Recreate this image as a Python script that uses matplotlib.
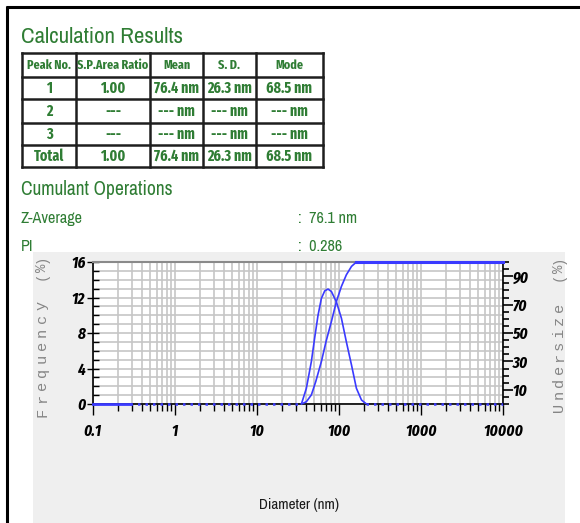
import os
import matplotlib
matplotlib.use("Agg")
import matplotlib.pyplot as plt
from matplotlib import font_manager as fm
from matplotlib.patches import Rectangle
from matplotlib.ticker import FixedLocator, FixedFormatter, NullFormatter

# ---- peak table -------------------------------------------------------
table_header = ["Peak No.", "S.P.Area Ratio", "Mean", "S. D.", "Mode"]
peak_names = ["1", "2", "3", "Total"]
area_ratio = ["1.00", "---", "---", "1.00"]
peak_mean = ["76.4 nm", "--- nm", "--- nm", "76.4 nm"]
peak_sd = ["26.3 nm", "--- nm", "--- nm", "26.3 nm"]
peak_mode = ["68.5 nm", "--- nm", "--- nm", "68.5 nm"]

# ---- cumulant results -------------------------------------------------
z_average = 76.1
poly_index = 0.286

# ---- frequency distribution (diameter in nm, %) -----------------------
freq_diam = [34.8, 40, 46, 50.5, 55.5, 61, 67, 73.5, 80.8, 93, 107, 123, 142, 163, 188, 216]
freq_pct = [0, 1.77, 4.77, 7.45, 10.0, 11.9, 12.75, 12.95, 12.67, 11.5, 9.67, 7.0, 4.4, 1.77, 0.45, 0]

# ---- cumulative undersize (diameter in nm, %) -------------------------
cum_diam = [34.8, 40, 46, 52, 61, 69.5, 80.8, 93, 107, 123, 142, 163, 10000]
cum_pct = [0, 1.6, 6.4, 15.7, 29.9, 44, 58.1, 72.2, 82.8, 91.0, 96.9, 100, 100]

size_range = [0.1, 10000]
solid_zero_end = 0.28
x_ticks = [0.1, 1, 10, 100, 1000, 10000]
x_tick_labels = ["0.1", "1", "10", "100", "1000", "10000"]
freq_ticks = [0, 4, 8, 12, 16]
under_ticks = [10, 30, 50, 70, 90]


# ---- fonts: prefer a narrow sans face --------------------------------
def _weight(f):
    w = f.weight
    if isinstance(w, str):
        w = fm.weight_dict.get(w, 400)
    return w


def _narrow_ok(f):
    base = os.path.basename(f.fname).lower()
    name = f.name.lower()
    key = base + " " + name
    if not ("narrow" in key or "condensed" in key or str(f.stretch) == "condensed"):
        return False
    for bad in ("ultra", "semi", "mono", "serif", "display"):
        if bad in key:
            return False
    return True


PRIORITY = ["liberationsansnarrow", "arialnarrow", "notosans", "robotocondensed",
            "opensans", "dejavusans"]


def narrow_font(bold=False, italic=False):
    cands = [f for f in fm.fontManager.ttflist if _narrow_ok(f)]

    def match(f, need_italic):
        is_bold = 600 <= _weight(f) < 800 if bold else 350 <= _weight(f) < 500
        is_it = f.style in ("italic", "oblique")
        return is_bold and (is_it == italic or not need_italic)

    pool = [f for f in cands if match(f, True)] or [f for f in cands if match(f, False)]
    if pool:
        def rank(f):
            base = os.path.basename(f.fname).lower().replace("-", "").replace("_", "")
            fam = len(PRIORITY)
            for i, p in enumerate(PRIORITY):
                if base.startswith(p):
                    fam = i
                    break
            narrowest = 0 if ("narrow" in base or "extracondensed" in base) else 1
            return (narrowest, fam)
        pool.sort(key=rank)
        return fm.FontProperties(fname=pool[0].fname)
    return fm.FontProperties(family="Liberation Sans",
                             weight="bold" if bold else "normal",
                             style="italic" if italic else "normal")


F_REG = narrow_font()
F_BOLD = narrow_font(bold=True)
F_TICK = narrow_font(bold=True, italic=True)
MONO = "Liberation Mono"

GREEN = "#2f7d34"
BLUE = "#3a3aff"
GRID = "#c6c6c6"

W, H = 580, 523
fig = plt.figure(figsize=(W / 100, H / 100), dpi=100)
renderer = fig.canvas.get_renderer()


def fit(t, width, max_size):
    """Shrink a text so its drawn width does not exceed `width` pixels."""
    w = t.get_window_extent(renderer).width
    size = t.get_fontsize()
    t.set_fontsize(min(max_size, size * width / w))
    return t.get_fontsize()


# page layer in pixel coordinates (y downwards)
page = fig.add_axes([0, 0, 1, 1])
page.set_xlim(0, W)
page.set_ylim(H, 0)
page.axis("off")
page.set_zorder(0)

# frame lines
page.plot([7, 7], [6, H], color="black", lw=2.2, solid_capstyle="butt")
page.plot([6, W], [7, 7], color="black", lw=2.2, solid_capstyle="butt")

# headings
t = page.text(21, 43, "Calculation Results", fontproperties=F_REG, fontsize=30,
              color=GREEN, ha="left", va="baseline")
fit(t, 162, 18.5)

# table
col_edges = [22, 76, 150, 203, 256, 323]
row_edges = [53, 77, 99, 123, 145, 167]
for x in col_edges:
    page.plot([x, x], [row_edges[0], row_edges[-1]], color="#1e1e1e", lw=1.8)
for y in row_edges:
    page.plot([col_edges[0], col_edges[-1]], [y, y], color="#1e1e1e", lw=1.8)

probe = page.text(0, 0, "S.P.Area Ratio", fontproperties=F_BOLD, fontsize=20)
head_size = fit(probe, 71, 10)
probe.set_text("76.4 nm")
probe.set_fontsize(20)
cell_size = fit(probe, 45, 11)
probe.remove()

rows = [table_header] + [
    [peak_names[i], area_ratio[i], peak_mean[i], peak_sd[i], peak_mode[i]]
    for i in range(len(peak_names))
]
for r, row in enumerate(rows):
    yc = (row_edges[r] + row_edges[r + 1]) / 2
    for c, txt in enumerate(row):
        xc = (col_edges[c] + col_edges[c + 1]) / 2
        page.text(xc, yc + 0.5, txt, fontproperties=F_BOLD,
                  fontsize=head_size if r == 0 else cell_size,
                  color=GREEN, ha="center", va="center")

t = page.text(21, 195, "Cumulant Operations", fontproperties=F_REG, fontsize=30,
              color=GREEN, ha="left", va="baseline")
fit(t, 152, 16)

t = page.text(21, 223, "Z-Average", fontproperties=F_REG, fontsize=30,
              color=GREEN, ha="left", va="baseline")
info_size = fit(t, 62, 14)
page.text(298, 223, f":  {z_average:.1f} nm", fontproperties=F_REG, fontsize=info_size,
          color=GREEN, ha="left", va="baseline")
page.text(21, 251, "PI", fontproperties=F_REG, fontsize=info_size,
          color=GREEN, ha="left", va="baseline")
page.text(298, 251, f":  {poly_index:.3f}", fontproperties=F_REG, fontsize=info_size,
          color=GREEN, ha="left", va="baseline")

# grey graph panel (drawn over the text above it)
page.add_patch(Rectangle((33, 252), 532, H - 252, facecolor="#efefef",
                         edgecolor="none", zorder=5))


def spaced_label(x, y_first, step, word, y_unit):
    """Write a vertical, letter-spaced label one character at a time."""
    for i, ch in enumerate(word):
        page.text(x, y_first - i * step, ch, fontfamily=MONO, fontsize=11,
                  color="#858585", rotation=90, ha="center", va="center", zorder=6)
    for i, ch in enumerate("(%)"):
        page.text(x, y_unit - i * 8.6, ch, fontfamily=MONO, fontsize=10,
                  color="#858585", rotation=90, ha="center", va="center", zorder=6)


spaced_label(42, 412, 13.3, "Frequency", 276)
spaced_label(559, 407, 12.4, "Undersize", 277)

t = page.text(299, 505, "Diameter (nm)", fontproperties=F_REG, fontsize=30,
              color="#1a1a1a", ha="center", va="center", zorder=6)
fit(t, 80, 12.5)

# ---- distribution plot ------------------------------------------------
ax = fig.add_axes([93 / W, (H - 404) / H, 410 / W, 142 / H])
ax.set_zorder(2)
ax.set_facecolor("white")
ax.set_xscale("log")
ax.set_xlim(*size_range)
ax.set_ylim(0, 16)

ax.xaxis.set_major_locator(FixedLocator(x_ticks))
ax.xaxis.set_major_formatter(FixedFormatter(x_tick_labels))
ax.xaxis.set_minor_locator(FixedLocator(
    [m * 10.0 ** e for e in range(-1, 4) for m in range(2, 10)]))
ax.xaxis.set_minor_formatter(NullFormatter())
ax.yaxis.set_major_locator(FixedLocator(freq_ticks))
ax.yaxis.set_minor_locator(FixedLocator(list(range(0, 17))))

ax.grid(True, which="both", color=GRID, lw=1.2)
ax.set_axisbelow(True)

probe = page.text(0, 0, "10000", fontproperties=F_TICK, fontsize=20)
tick_size = fit(probe, 40, 14)
probe.remove()

ax.tick_params(axis="x", which="major", direction="out", length=8, width=1,
               pad=6, colors="black")
ax.tick_params(axis="x", which="minor", direction="out", length=5, width=1)
ax.tick_params(axis="y", which="major", direction="inout", length=9, width=1, pad=1)
ax.tick_params(axis="y", which="minor", direction="in", length=4, width=1)
for lab in ax.get_xticklabels() + ax.get_yticklabels():
    lab.set_fontproperties(F_TICK)
    lab.set_fontsize(tick_size)

for side in ("left", "bottom", "right"):
    ax.spines[side].set_color("black")
    ax.spines[side].set_linewidth(1.2)
ax.spines["top"].set_color("#8a8a8a")
ax.spines["top"].set_linewidth(1.5)

# frequency curve with its zero baseline
ax.plot([size_range[0], solid_zero_end], [0, 0], color=BLUE, lw=2, clip_on=False, zorder=4)
ax.plot([solid_zero_end, freq_diam[0]], [0, 0], color=BLUE, lw=1.8,
        ls=(0, (1, 2)), clip_on=False, zorder=4)
ax.plot([freq_diam[-1], size_range[1]], [0, 0], color=BLUE, lw=1.8,
        ls=(0, (1, 2)), clip_on=False, zorder=4)
ax.plot(freq_diam, freq_pct, color=BLUE, lw=1.2, zorder=4)

# cumulative undersize on the right-hand scale
ax2 = ax.twinx()
ax2.set_ylim(0, 100)
ax2.yaxis.set_major_locator(FixedLocator(under_ticks))
ax2.yaxis.set_minor_locator(FixedLocator(list(range(0, 101, 5))))
ax2.tick_params(axis="y", which="major", direction="out", length=7, width=1.2, pad=0)
ax2.tick_params(axis="y", which="minor", direction="out", length=4, width=1.2)
for lab in ax2.get_yticklabels():
    lab.set_fontproperties(F_TICK)
    lab.set_fontsize(tick_size)
for side in ax2.spines:
    ax2.spines[side].set_visible(False)
ax2.plot(cum_diam, cum_pct, color=BLUE, lw=1.2, clip_on=False, zorder=4)
ax2.plot([cum_diam[-2], cum_diam[-1]], [100, 100], color=BLUE, lw=2.2, clip_on=False, zorder=4)

fig.savefig("out.png", dpi=100)
